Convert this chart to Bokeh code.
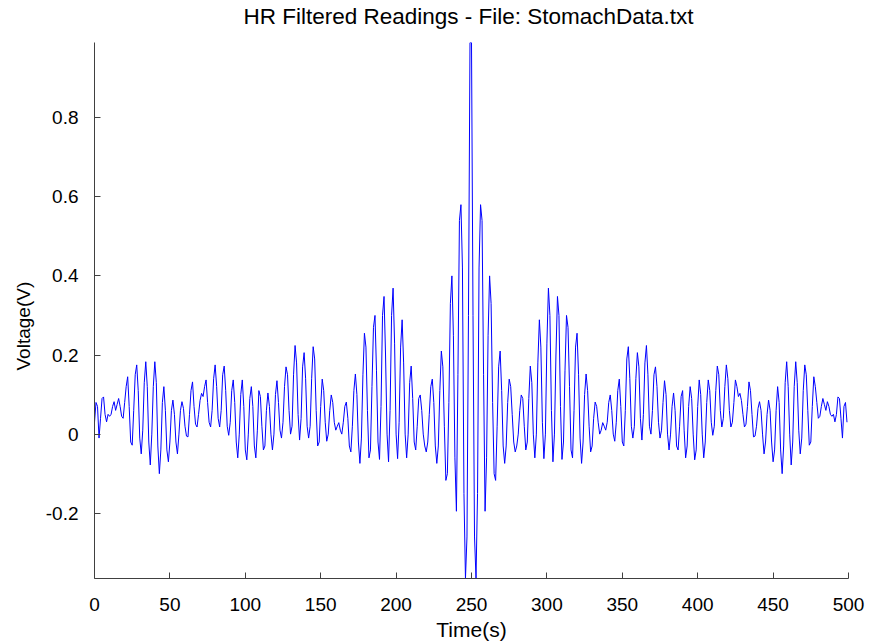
from bokeh.plotting import figure
from bokeh.models import Range1d, FixedTicker, ColumnDataSource, Title, Div
from bokeh.layouts import column
from bokeh.embed import file_html
from bokeh.resources import INLINE

title_text = "HR Filtered Readings - File: StomachData.txt"
x_label = "Time(s)"
y_label = "Voltage(V)"

x_ticks = [0, 50, 100, 150, 200, 250, 300, 350, 400, 450, 500]
y_ticks = [-0.2, 0, 0.2, 0.4, 0.6, 0.8]
y_tick_labels = ["-0.2", "0", "0.2", "0.4", "0.6", "0.8"]

# samples 0..249
voltage_first_half = [
    0.030, 0.080, 0.070, -0.010, 0.040, 0.090, 0.094, 0.050, 0.031, 0.050,
    0.045, 0.050, 0.070, 0.082, 0.060, 0.075, 0.090, 0.070, 0.045, 0.040,
    0.080, 0.120, 0.145, 0.070, -0.020, -0.028, 0.060, 0.150, 0.175, 0.110,
    -0.010, -0.050, 0.010, 0.130, 0.183, 0.120, -0.020, -0.078, 0.000, 0.120,
    0.183, 0.130, -0.030, -0.100, -0.040, 0.080, 0.120, 0.060, -0.040, -0.070,
    -0.020, 0.060, 0.086, 0.050, -0.020, -0.050, 0.000, 0.060, 0.082, 0.065,
    0.020, -0.005, -0.007, 0.050, 0.110, 0.132, 0.070, 0.025, 0.018, 0.050,
    0.085, 0.103, 0.095, 0.120, 0.137, 0.080, 0.030, 0.018, 0.060, 0.140,
    0.175, 0.120, 0.040, 0.018, 0.060, 0.150, 0.172, 0.110, 0.020, -0.003,
    0.030, 0.110, 0.137, 0.080, -0.020, -0.060, 0.000, 0.100, 0.137, 0.070,
    -0.040, -0.065, 0.000, 0.090, 0.120, 0.070, -0.030, -0.060, 0.010, 0.110,
    0.095, 0.020, -0.040, -0.030, 0.060, 0.104, 0.070, 0.000, -0.040, 0.000,
    0.100, 0.135, 0.080, 0.010, -0.010, 0.030, 0.120, 0.170, 0.150, 0.060,
    0.000, 0.020, 0.150, 0.224, 0.180, 0.050, -0.015, 0.040, 0.170, 0.206,
    0.140, 0.020, -0.010, 0.020, 0.140, 0.221, 0.190, 0.060, -0.030, -0.020,
    0.070, 0.139, 0.110, 0.030, -0.018, 0.000, 0.060, 0.099, 0.080, 0.030,
    0.010, 0.020, 0.029, 0.010, 0.000, 0.030, 0.070, 0.081, 0.040, -0.030,
    -0.045, 0.020, 0.110, 0.152, 0.100, -0.020, -0.074, -0.010, 0.150, 0.255,
    0.220, 0.060, -0.060, -0.040, 0.120, 0.270, 0.300, 0.160, -0.020, -0.064,
    0.070, 0.300, 0.348, 0.200, 0.000, -0.070, 0.060, 0.300, 0.369, 0.230,
    0.000, -0.062, 0.030, 0.220, 0.289, 0.180, 0.000, -0.060, 0.000, 0.130,
    0.172, 0.090, -0.020, -0.040, 0.020, 0.090, 0.099, 0.060, 0.000, -0.030,
    -0.045, -0.020, 0.050, 0.120, 0.139, 0.080, -0.030, -0.074, -0.030, 0.110,
    0.210, 0.170, 0.020, -0.117, -0.100, 0.080, 0.330, 0.400, 0.250, -0.060,
    -0.195, 0.150, 0.540, 0.580, 0.420, -0.150, -0.365, -0.260, 0.300, 0.990,
]

# samples 250..499
voltage_second_half = [
    0.990, 0.300, -0.260, -0.365, -0.150, 0.420, 0.580, 0.540, 0.150, -0.195,
    -0.060, 0.250, 0.400, 0.330, 0.080, -0.100, -0.117, 0.020, 0.170, 0.210,
    0.110, -0.030, -0.074, -0.030, 0.080, 0.139, 0.120, 0.050, -0.020, -0.045,
    -0.030, 0.000, 0.060, 0.099, 0.090, 0.020, -0.040, -0.020, 0.090, 0.172,
    0.130, 0.000, -0.060, 0.000, 0.180, 0.289, 0.220, 0.030, -0.062, 0.000,
    0.230, 0.369, 0.300, 0.060, -0.070, 0.000, 0.200, 0.348, 0.300, 0.070,
    -0.064, -0.020, 0.160, 0.300, 0.270, 0.120, -0.040, -0.060, 0.060, 0.220,
    0.255, 0.150, -0.010, -0.074, -0.020, 0.100, 0.152, 0.110, 0.020, -0.045,
    -0.030, 0.040, 0.081, 0.070, 0.030, 0.000, 0.010, 0.029, 0.020, 0.010,
    0.030, 0.080, 0.099, 0.060, 0.000, -0.018, 0.030, 0.110, 0.139, 0.070,
    -0.020, -0.030, 0.060, 0.190, 0.221, 0.140, 0.020, -0.010, 0.020, 0.140,
    0.206, 0.170, 0.040, -0.015, 0.050, 0.180, 0.224, 0.150, 0.020, 0.000,
    0.060, 0.150, 0.170, 0.120, 0.030, -0.010, 0.010, 0.080, 0.135, 0.100,
    0.000, -0.040, 0.000, 0.070, 0.104, 0.060, -0.030, -0.040, 0.020, 0.095,
    0.110, 0.010, -0.060, -0.030, 0.070, 0.120, 0.090, 0.000, -0.065, -0.040,
    0.070, 0.137, 0.100, 0.000, -0.060, -0.020, 0.080, 0.137, 0.110, 0.030,
    -0.003, 0.020, 0.110, 0.172, 0.150, 0.060, 0.018, 0.040, 0.120, 0.175,
    0.140, 0.060, 0.018, 0.030, 0.080, 0.137, 0.120, 0.095, 0.103, 0.085,
    0.050, 0.018, 0.025, 0.070, 0.132, 0.110, 0.050, -0.007, -0.005, 0.020,
    0.065, 0.082, 0.060, 0.000, -0.050, -0.020, 0.050, 0.086, 0.060, -0.020,
    -0.070, -0.040, 0.060, 0.120, 0.080, -0.040, -0.100, -0.030, 0.130, 0.183,
    0.120, 0.000, -0.078, -0.020, 0.120, 0.183, 0.130, 0.010, -0.050, -0.010,
    0.110, 0.175, 0.150, 0.060, -0.028, -0.020, 0.070, 0.145, 0.120, 0.080,
    0.040, 0.045, 0.070, 0.090, 0.075, 0.060, 0.082, 0.070, 0.050, 0.045,
    0.050, 0.031, 0.050, 0.094, 0.090, 0.040, -0.010, 0.070, 0.080, 0.030,
]

voltage = voltage_first_half + voltage_second_half
time_s = list(range(len(voltage)))

FONT = "Liberation Sans"
AXIS_COLOR = "#404040"

title_div = Div(
    text=(
        '<div style="width:749px;margin-left:94px;text-align:center;'
        "font-family:'Liberation Sans';font-size:22.5px;line-height:26px;"
        'padding-top:4px;color:black;white-space:nowrap">'
        + title_text + "</div>"
    ),
    width=871, height=42, margin=0,
)

p = figure(
    width=871, height=602,
    output_backend="svg", toolbar_location=None,
    x_range=Range1d(0, 500),
    y_range=Range1d(min(voltage), max(voltage)),
    min_border_left=94, min_border_right=23,
    min_border_top=0, min_border_bottom=66,
    margin=0,
)
p.background_fill_color = "white"
p.border_fill_color = "white"
p.outline_line_color = None
p.xgrid.visible = False
p.ygrid.visible = False

src = ColumnDataSource(dict(t=time_s, v=voltage))
p.line("t", "v", source=src, line_color="#0000ff", line_width=1)

for ax in (p.xaxis[0], p.yaxis[0]):
    ax.axis_line_color = AXIS_COLOR
    ax.major_tick_line_color = AXIS_COLOR
    ax.major_tick_in = 6
    ax.major_tick_out = 0
    ax.minor_tick_line_color = None
    ax.major_label_text_font = FONT
    ax.major_label_text_font_size = "19px"
    ax.major_label_text_color = "black"
    ax.axis_label_text_font = FONT
    ax.axis_label_text_font_size = "21px"
    ax.axis_label_text_font_style = "normal"
    ax.axis_label_text_color = "black"

p.xaxis.ticker = FixedTicker(ticks=x_ticks)
p.yaxis.ticker = FixedTicker(ticks=y_ticks)
p.yaxis.major_label_overrides = {t: s for t, s in zip(y_ticks, y_tick_labels)}
p.xaxis.axis_label = x_label
p.xaxis.major_label_standoff = 19
p.yaxis.major_label_standoff = 16
p.xaxis.axis_label_standoff = 4

# y-axis label as a side title, so it can sit a little below the centre
p.add_layout(Title(
    text=y_label, align="left", offset=208, standoff=18,
    text_font=FONT, text_font_size="19px", text_font_style="normal",
    text_color="black",
), "left")

layout = column(title_div, p, spacing=0, margin=0)

with open("out.html", "w") as f:
    f.write(file_html(layout, INLINE))
